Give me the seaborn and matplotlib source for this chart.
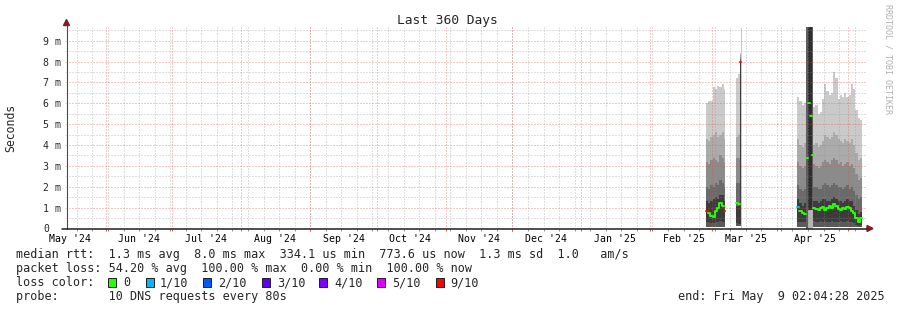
import numpy as np
import pandas as pd
import matplotlib
matplotlib.use("Agg")
import matplotlib.pyplot as plt
from matplotlib.patches import Rectangle, Polygon
from matplotlib.lines import Line2D
import seaborn as sns

# ---------------------------------------------------------------- data
# x values are days since the start of the 360-day window, y values are ms
window_start = pd.Timestamp("2024-05-14 02:04:28")
window_end = pd.Timestamp("2025-05-09 02:04:28")

month_labels = ["May '24", "Jun '24", "Jul '24", "Aug '24", "Sep '24", "Oct '24",
                "Nov '24", "Dec '24", "Jan '25", "Feb '25", "Mar '25", "Apr '25"]
month_label_dates = ["2024-05-16", "2024-06-16", "2024-07-16", "2024-08-16",
                     "2024-09-16", "2024-10-16", "2024-11-16", "2024-12-16",
                     "2025-01-16", "2025-02-16", "2025-03-16", "2025-04-16"]
y_ticks_ms = [0, 1, 2, 3, 4, 5, 6, 7, 8, 9]
y_tick_labels = ["0", "1 m", "2 m", "3 m", "4 m", "5 m", "6 m", "7 m", "8 m", "9 m"]

# late-Feb block
feb_edges = [288.0, 289.0, 290.0, 291.0, 292.0, 293.0, 294.0, 295.0, 296.0, 296.6]
feb_min = [0.05, 0.05, 0.05, 0.05, 0.05, 0.05, 0.05, 0.05, 0.05]
feb_lo = [0.3, 0.3, 0.25, 0.25, 0.3, 0.3, 0.35, 0.3, 0.3]
feb_b1 = [1.3, 1.2, 1.3, 1.4, 1.5, 1.4, 1.6, 1.6, 1.3]
feb_b2 = [2.0, 1.9, 2.1, 2.0, 2.2, 2.1, 2.3, 2.2, 2.0]
feb_b3 = [3.2, 3.1, 3.3, 3.4, 3.3, 3.2, 3.5, 3.4, 3.2]
feb_b4 = [4.3, 4.2, 4.4, 4.5, 4.6, 4.4, 4.5, 4.6, 4.3]
feb_max = [6.0, 6.1, 6.1, 6.8, 6.7, 6.85, 6.8, 6.9, 6.7]
feb_med = [0.85, 0.75, 0.6, 0.55, 0.85, 1.0, 1.2, 1.1, 0.85]
feb_loss = ["9/10", "0", "0", "0", "0", "0", "0", "0", "9/10"]

# early-March spike
spike_edges = [301.5, 302.3, 303.2, 303.5, 303.75, 304.2]
spike_min = [0.1, 0.1, 0.1, 0.1, 0.0]
spike_lo = [0.25, 0.2, 0.2, 0.2, 0.0]
spike_b1 = [1.1, 1.1, 8.0, 8.0, 0.0]
spike_b2 = [2.2, 2.2, 8.1, 8.1, 0.0]
spike_b3 = [3.4, 3.4, 8.2, 8.2, 0.0]
spike_b4 = [4.4, 4.5, 8.3, 8.3, 0.0]
spike_max = [7.2, 7.4, 8.4, 8.4, 9.6]
spike_med = [1.2, 1.15, 3.2, 8.0, np.nan]
spike_loss = ["0", "0", "1/10", "9/10", None]

# April block, before the saturated burst
apra_edges = [329.0, 330.0, 331.0, 332.0, 333.0]
apra_min = [0.05, 0.05, 0.05, 0.05]
apra_lo = [0.3, 0.3, 0.3, 0.3]
apra_b1 = [1.4, 1.2, 1.1, 1.2]
apra_b2 = [2.1, 1.9, 1.8, 1.9]
apra_b3 = [3.2, 3.0, 2.9, 3.0]
apra_b4 = [4.3, 4.0, 3.9, 4.1]
apra_max = [6.3, 6.1, 5.9, 6.0]
apra_med = [1.05, 0.85, 0.75, 0.7]
apra_loss = ["1/10", "0", "0", "0"]

# saturated burst in April
burst_edges = [333.0, 333.8, 334.7, 335.5, 336.2]
burst_top = [9.9, 9.9, 9.9, 9.9]
burst_floor = [0.0, 0.9, 0.9, 0.9]
burst_core_lo = [0.0, 0.9, 0.9, 0.0]
burst_core_hi = [0.0, 9.9, 9.9, 0.0]
burst_med = [3.4, 6.0, 5.4, 3.5]
burst_loss = ["0", "0", "0", "0"]

# April block, after the burst
aprb_edges = [336.2, 337.2, 338.2, 339.2, 340.2, 341.2, 342.2, 343.2, 344.2, 345.2,
              346.2, 347.2, 348.2, 349.2, 350.2, 351.2, 352.2, 353.2, 354.2, 355.2,
              356.2, 357.2, 358.2]
aprb_min = [0.05] * 22
aprb_lo = [0.35, 0.3, 0.3, 0.35, 0.3, 0.35, 0.3, 0.3, 0.35, 0.3, 0.3,
           0.3, 0.35, 0.3, 0.3, 0.35, 0.3, 0.3, 0.25, 0.15, 0.1, 0.15]
aprb_b1 = [1.3, 1.3, 1.2, 1.3, 1.4, 1.4, 1.3, 1.3, 1.4, 1.5, 1.4,
           1.3, 1.3, 1.2, 1.3, 1.4, 1.3, 1.3, 1.1, 0.9, 0.7, 0.8]
aprb_b2 = [2.0, 2.0, 1.9, 1.9, 2.1, 2.2, 2.1, 2.0, 2.1, 2.2, 2.1,
           2.0, 2.0, 1.9, 2.0, 2.1, 1.9, 2.0, 1.8, 1.6, 1.4, 1.5]
aprb_b3 = [3.1, 3.0, 2.9, 3.0, 3.2, 3.3, 3.2, 3.1, 3.3, 3.4, 3.3,
           3.1, 3.2, 3.0, 3.1, 3.2, 3.0, 3.1, 2.9, 2.6, 2.3, 2.4]
aprb_b4 = [4.0, 4.1, 3.9, 4.0, 4.2, 4.5, 4.4, 4.3, 4.4, 4.6, 4.5,
           4.3, 4.2, 4.1, 4.3, 4.2, 4.1, 4.3, 4.0, 3.6, 3.3, 3.4]
aprb_max = [5.8, 5.9, 5.5, 5.6, 6.2, 6.9, 6.6, 6.4, 6.5, 7.5, 7.2,
            6.2, 6.4, 6.3, 6.5, 6.3, 6.4, 6.9, 6.7, 5.7, 5.3, 5.2]
aprb_med = [1.0, 0.95, 0.9, 1.0, 1.05, 0.9, 1.0, 1.1, 1.0, 1.15, 1.1,
            0.95, 0.9, 1.0, 0.95, 1.05, 1.0, 0.85, 0.75, 0.5, 0.3, 0.5]
aprb_loss = ["0"] * 22

loss_labels = ["0", "1/10", "2/10", "3/10", "4/10", "5/10", "9/10"]
loss_colors = ["#26ff00", "#00b8ff", "#0059ff", "#5e00ff", "#7e00ff", "#dd00ff", "#ff0000"]

stats_line1 = "median rtt:  1.3 ms avg  8.0 ms max  334.1 us min  773.6 us now  1.3 ms sd  1.0   am/s"
stats_line2 = "packet loss: 54.20 % avg  100.00 % max  0.00 % min  100.00 % now"
probe_line = "probe:       10 DNS requests every 80s"
end_line = "end: Fri May  9 02:04:28 2025"
title = "Last 360 Days"
ylabel = "Seconds"
vendor = "RRDTOOL / TOBI OETIKER"

# ---------------------------------------------------------------- style
sns.set_style("white")
plt.rcParams["font.family"] = ["DejaVu Sans Mono", "DejaVu Sans"]

W, H = 897, 310
X0, Y0, PW, PH = 66.0, 228.5, 800.0, 201.5   # plot area in pixels
YMAX = 9.655
SHADES = ["#5a5a5a", "#3c3c3c", "#6a6a6a", "#8b8b8b", "#ababab", "#cacaca"]
GRID = "#8f8f8f"
MGRID = "#de4f4f"
ARROW = "#801f1f"
LOSS = dict(zip(loss_labels, loss_colors))


def fx(x):
    return x / W


def fy(y):
    return 1 - y / H


def days(ts):
    return (pd.to_datetime(ts) - window_start) / pd.Timedelta(days=1)


fig = plt.figure(figsize=(W / 100, H / 100), dpi=100)
fig.patch.set_facecolor("white")
ax = fig.add_axes([fx(X0), fy(Y0), PW / W, PH / H])
ax.set_facecolor("white")
span = days(window_end)
ax.set_xlim(0, span)
ax.set_ylim(0, YMAX)
for s in ax.spines.values():
    s.set_visible(False)


def ext(a):
    a = np.asarray(a, float)
    return np.append(a, a[-1])


def smoke(edges, *levels):
    for k in range(len(levels) - 1):
        ax.fill_between(edges, ext(levels[k]), ext(levels[k + 1]), step="post",
                        color=SHADES[k], lw=0, zorder=1, antialiased=False)


def median(edges, med, loss, joined=True):
    n = len(med)
    i = 0
    while i < n:
        if loss[i] is None or np.isnan(med[i]):
            i += 1
            continue
        j = i
        while joined and j + 1 < n and loss[j + 1] == loss[i]:
            j += 1
        xs = list(edges[i:j + 2])
        ys = list(med[i:j + 1]) + [med[j]]
        sns.lineplot(x=xs, y=ys, ax=ax, drawstyle="steps-post", color=LOSS[loss[i]],
                     lw=1.4, estimator=None, sort=False, legend=False, zorder=5)
        i = j + 1


smoke(feb_edges, feb_min, feb_lo, feb_b1, feb_b2, feb_b3, feb_b4, feb_max)
smoke(spike_edges, spike_min, spike_lo, spike_b1, spike_b2, spike_b3, spike_b4, spike_max)
smoke(apra_edges, apra_min, apra_lo, apra_b1, apra_b2, apra_b3, apra_b4, apra_max)
smoke(aprb_edges, aprb_min, aprb_lo, aprb_b1, aprb_b2, aprb_b3, aprb_b4, aprb_max)

bl = np.asarray(burst_edges[:-1])
bw = np.diff(burst_edges)
ax.bar(bl, burst_top, width=bw, align="edge", color="#5e5e5e", lw=0, zorder=1)
ax.bar(bl, np.subtract(burst_core_hi, burst_core_lo), bottom=burst_core_lo, width=bw,
       align="edge", color="#2e2e2e", lw=0, zorder=1.1)
ax.bar(bl, burst_floor, width=bw, align="edge", color="#b4b4b4", lw=0, zorder=1.2)

# grid (drawn over the smoke, like rrdtool)
dots = (0, (1, 2))
week_days = days(pd.date_range("2024-05-19", "2025-05-04", freq="7D"))
month_days = days(pd.date_range("2024-06-01", "2025-05-01", freq="MS"))
ax.vlines(week_days, 0, YMAX, colors=GRID, alpha=0.55, lw=0.72, linestyles=dots, zorder=3)
ax.hlines(np.arange(0.5, YMAX, 1.0), 0, span, colors=GRID, alpha=0.55, lw=0.72,
          linestyles=dots, zorder=3)
ax.hlines(y_ticks_ms[1:], 0, span, colors=MGRID, alpha=0.6, lw=0.72, linestyles=dots, zorder=3.1)
ax.vlines(month_days, 0, YMAX, colors=MGRID, alpha=0.6, lw=0.72, linestyles=dots, zorder=3.1)
xt = ax.get_xaxis_transform()
ax.vlines(week_days, -0.012, 0, colors=GRID, lw=0.72, transform=xt, clip_on=False)
ax.vlines(month_days, -0.012, 0, colors=MGRID, lw=0.72, transform=xt, clip_on=False)

median(feb_edges, feb_med, feb_loss)
median(spike_edges, spike_med, spike_loss)
median(apra_edges, apra_med, apra_loss)
median(burst_edges, burst_med, burst_loss, joined=False)
median(aprb_edges, aprb_med, aprb_loss)

# ticks
ax.set_xticks(days(month_label_dates))
ax.set_xticklabels(month_labels)
ax.tick_params(axis="x", length=0, pad=3.6, labelsize=7.1, colors="black")
ax.set_yticks(y_ticks_ms)
ax.set_yticklabels(y_tick_labels)
ax.tick_params(axis="y", length=0, pad=(X0 - 43) * 0.72, labelsize=7.1)
for lbl in ax.get_yticklabels():
    lbl.set_horizontalalignment("left")

# axes lines and arrows
fig.add_artist(Line2D([fx(X0 + 0.5), fx(X0 + 0.5)], [fy(Y0), fy(25)], color="#4a4a4a", lw=0.8))
fig.add_artist(Line2D([fx(62), fx(867)], [fy(Y0), fy(Y0)], color="#1f1f1f", lw=1.1))
fig.add_artist(Polygon([[fx(X0 + 0.5), fy(19.5)], [fx(X0 - 2.5), fy(25.5)], [fx(X0 + 3.5), fy(25.5)]],
                       closed=True, color=ARROW, transform=fig.transFigure))
fig.add_artist(Polygon([[fx(873), fy(Y0)], [fx(867), fy(Y0 - 3)], [fx(867), fy(Y0 + 3)]],
                       closed=True, color=ARROW, transform=fig.transFigure))

# texts
fig.text(fx(447), fy(24.3), title, ha="center", va="baseline", fontsize=9.3)
fig.text(fx(10.8), fy(127.5), ylabel, rotation=90, ha="center", va="center", fontsize=8.3)
fig.text(fx(888), fy(4.5), vendor, rotation=270, ha="center", va="top", fontsize=6.0,
         color="#b0b0b0")

fig.text(fx(16), fy(258.3), stats_line1, ha="left", va="baseline", fontsize=8.5)
fig.text(fx(16), fy(272.3), stats_line2, ha="left", va="baseline", fontsize=8.5)
fig.text(fx(16), fy(286.3), "loss color:", ha="left", va="baseline", fontsize=8.5)
box_x = [108, 146, 203, 262, 319, 377, 436]
lab_x = [123, 160, 218, 277, 334, 392, 450]
for bx, lx, lab, col in zip(box_x, lab_x, loss_labels, loss_colors):
    fig.add_artist(Rectangle((fx(bx), fy(286.5)), 8 / W, 8.5 / H, transform=fig.transFigure,
                             facecolor=col, edgecolor="#222222", lw=0.72))
    fig.text(fx(lx), fy(286.3), lab, ha="left", va="baseline", fontsize=8.5)
fig.text(fx(16), fy(300.2), probe_line, ha="left", va="baseline", fontsize=8.5)
fig.text(fx(678), fy(300.2), end_line, ha="left", va="baseline", fontsize=8.5)

fig.savefig("out.png", dpi=100, facecolor="white")
